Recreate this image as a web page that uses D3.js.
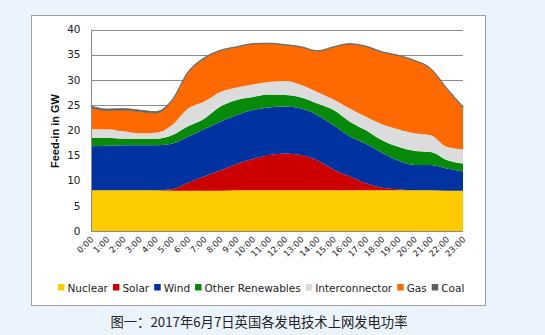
<!DOCTYPE html>
<html><head><meta charset="utf-8">
<script src="https://cdn.jsdelivr.net/npm/d3@7"></script>
<style>
html,body{margin:0;padding:0;background:#ebf4fd;}
svg{display:block;}
</style></head>
<body>
<svg id="c" width="545" height="335"></svg>
<script>
const hours = [0,1,2,3,4,5,6,7,8,9,10,11,12,13,14,15,16,17,18,19,20,21,22,23];
const hourLabels = hours.map(h => h + ":00");
const seriesNames = ["Nuclear","Solar","Wind","Other Renewables","Interconnector","Gas","Coal"];
const nuclear = [8.1,8.1,8.1,8.1,8.1,8.0,8.0,8.0,8.0,8.1,8.1,8.1,8.1,8.1,8.1,8.1,8.1,8.1,8.1,8.1,8.1,8.1,8.0,8.0];
const solar   = [0,0,0,0,0,0.3,1.6,2.8,4.0,5.2,6.2,7.0,7.3,7.0,5.9,4.1,2.7,1.4,0.5,0.2,0,0,0,0];
const wind    = [8.7,8.8,8.9,8.9,8.9,9.0,9.1,9.4,9.7,9.7,9.7,9.4,9.3,9.2,9.0,8.8,8.0,7.8,6.9,5.7,5.0,5.0,4.4,3.8];
const otherRen= [1.7,1.6,1.3,1.3,1.3,1.7,2.1,2.1,3.0,3.0,2.6,2.6,2.3,2.2,2.3,3.0,2.9,2.7,2.5,2.7,2.8,2.6,1.7,1.6];
const intercon= [1.7,1.7,1.5,1.1,1.2,2.0,3.5,3.4,2.9,2.5,2.5,2.5,2.8,2.5,2.3,2.1,2.6,2.7,3.2,3.5,3.5,3.3,2.6,2.8];
const gas     = [4.3,3.7,4.2,4.3,3.9,4.8,7.1,8.5,8.2,8.0,8.0,7.6,7.1,7.5,8.1,10.4,12.8,13.9,14.3,14.6,14.4,13.2,11.5,8.3];
const coal    = [0.3,0.3,0.3,0.3,0.3,0.2,0.2,0.2,0.1,0.1,0.1,0.1,0.1,0.1,0.1,0.1,0.1,0.1,0.1,0.1,0.1,0.1,0.15,0.2];
const yTicks = [0,5,10,15,20,25,30,35,40];
const colors = ["#fccb00","#cc0000","#0033a0","#078a0a","#dcdcdc","#ff6a00","#5f5f5f"];
const caption = "图一：2017年6月7日英国各发电技术上网发电功率";

const seriesVals = [nuclear, solar, wind, otherRen, intercon, gas, coal];
const rows = hours.map((h, i) => {
  const r = {h};
  seriesNames.forEach((n, k) => r[n] = seriesVals[k][i]);
  return r;
});

const svg = d3.select("#c");
svg.append("rect").attr("x",31.5).attr("y",15.5).attr("width",454).attr("height",290)
  .attr("fill","#fff").attr("stroke","#a0a0a0").attr("stroke-width",1);

const L = 91, R = 463;
const x = d3.scaleLinear().domain([0,23]).range([L,R]);
const y = d3.scaleLinear().domain([0,40]).range([231,29.5]);

svg.append("g").selectAll("line").data(yTicks.filter(t=>t>0)).join("line")
  .attr("x1",L).attr("x2",R)
  .attr("y1",d=>Math.round(y(d))+0.5).attr("y2",d=>Math.round(y(d))+0.5)
  .attr("stroke","#8c8c8c").attr("stroke-width",1);

const stack = d3.stack().keys(seriesNames);
const layers = stack(rows);
const area = d3.area().curve(d3.curveMonotoneX)
  .x(d=>x(d.data.h)).y0(d=>y(d[0])).y1(d=>y(d[1]));

svg.append("g").selectAll("path").data(layers).join("path")
  .attr("d",area).attr("fill",(d,i)=>colors[i])
  .attr("stroke",(d,i)=> i===6 ? "#6a6a6a" : "none")
  .attr("stroke-width",0.8);

svg.append("line").attr("x1",L+0.5).attr("x2",L+0.5).attr("y1",29.5).attr("y2",231.5)
  .attr("stroke","#8c8c8c");
svg.append("line").attr("x1",L).attr("x2",R).attr("y1",231.5).attr("y2",231.5)
  .attr("stroke","#8c8c8c");

svg.append("g").selectAll("text").data(yTicks).join("text")
  .attr("x",80.5).attr("y",d=>y(d)).attr("dy","0.36em")
  .attr("text-anchor","end")
  .attr("font-family","DejaVu Sans, Verdana, sans-serif").attr("font-size",10.5)
  .attr("fill","#222").text(d=>d);

svg.append("text").attr("transform","translate(59,131) rotate(-90)")
  .attr("text-anchor","middle")
  .attr("font-family","Liberation Sans, Arial, sans-serif").attr("font-weight","bold")
  .attr("font-size",11).attr("fill","#111").text("Feed-in in GW");

svg.append("g").selectAll("text").data(hours).join("text")
  .attr("transform",d=>`translate(${x(d)+3},${240}) rotate(-45)`)
  .attr("text-anchor","end")
  .attr("font-family","DejaVu Sans, Verdana, sans-serif").attr("font-size",8.5)
  .attr("fill","#222").text((d,i)=>hourLabels[i]);

const lg = svg.append("g");
let lx = 58;
seriesNames.forEach((n,i)=>{
  lg.append("rect").attr("x",lx).attr("y",284).attr("width",6.5).attr("height",6.5).attr("fill",colors[i]);
  const t = lg.append("text").attr("x",lx+9.5).attr("y",291.5)
    .attr("font-family","DejaVu Sans, Verdana, sans-serif").attr("font-size",10.5)
    .attr("fill","#222").text(n);
  lx += 9.5 + t.node().getComputedTextLength() + 5;
});

svg.append("text").attr("x",259).attr("y",327).attr("text-anchor","middle")
  .attr("font-family","Noto Sans CJK SC, sans-serif").attr("font-size",13.3)
  .attr("fill","#222").text(caption);
</script>
</body></html>
